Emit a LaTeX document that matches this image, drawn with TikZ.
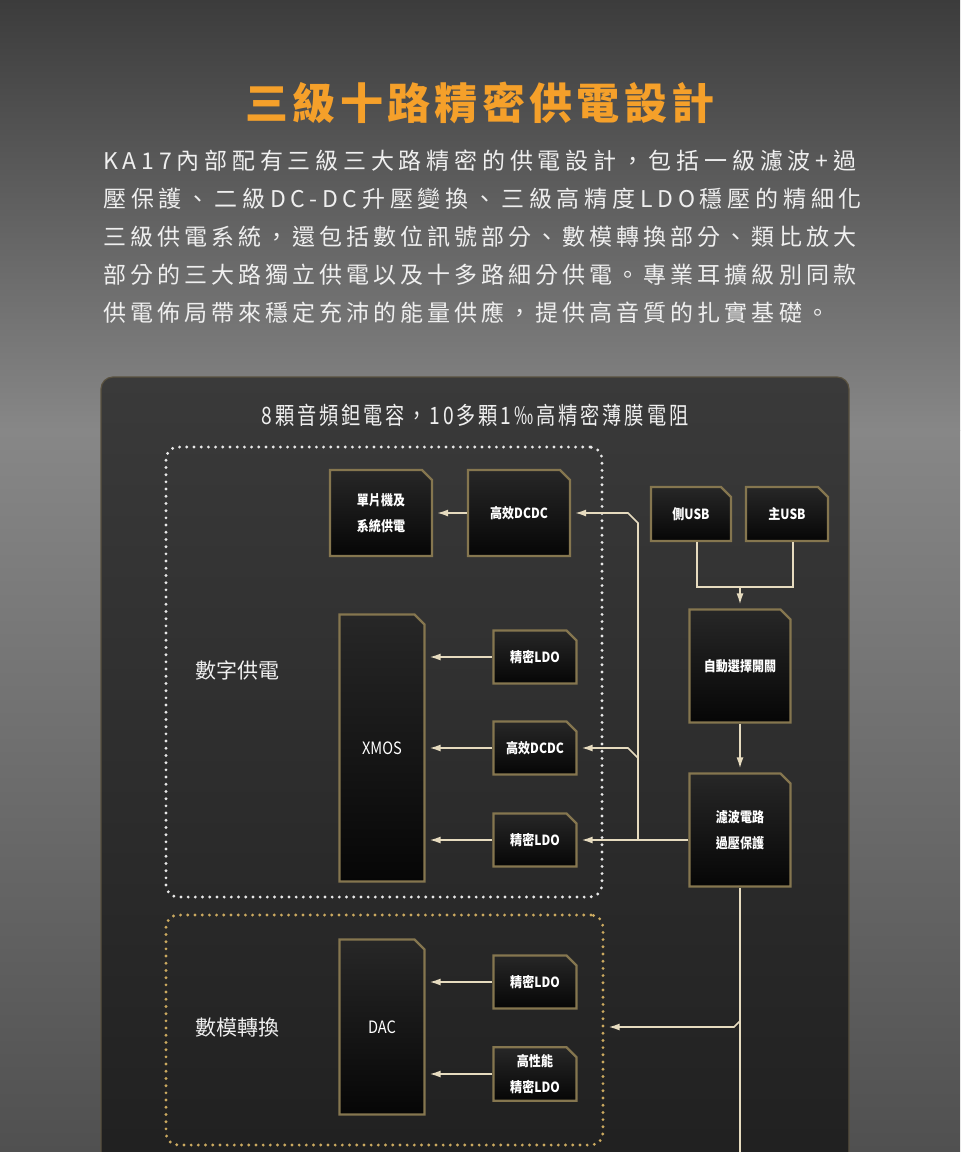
\documentclass[tikz,border=0pt]{standalone}
\usepackage{fontspec}
\usetikzlibrary{arrows.meta,shapes.misc,positioning}
\newfontfamily\cjk{Noto Sans CJK TC}
\newfontfamily\cjktitle{Noto Sans CJK TC}[LetterSpace=10]
\newfontfamily\cjkwide{Noto Sans CJK TC}[LetterSpace=17.5]
\newfontfamily\cjkwider{Noto Sans CJK TC}[LetterSpace=20.8]
\newfontfamily\cjknarrow{Noto Sans CJK TC}[FakeStretch=0.86]
\newfontfamily\cjkcaption{Noto Sans CJK TC}[FakeStretch=0.8,LetterSpace=12]
\definecolor{bgtop}{HTML}{3C3C3C}
\definecolor{bgmid}{HTML}{878787}
\definecolor{bglow}{HTML}{505050}
\definecolor{paneltop}{HTML}{3A3A3A}
\definecolor{panelbot}{HTML}{202020}
\definecolor{paneledge}{HTML}{5A5240}
\definecolor{chipedge}{HTML}{85764F}
\definecolor{chiptop}{HTML}{272727}
\definecolor{chipbot}{HTML}{060606}
\definecolor{wire}{HTML}{E6DBBF}
\definecolor{dotwhite}{HTML}{E8E8E8}
\definecolor{dotgold}{HTML}{CCAA60}
\definecolor{titleorange}{HTML}{F5A02A}
\definecolor{paper}{HTML}{EFEFEF}
\tikzset{
  chip/.style={chamfered rectangle, chamfered rectangle corners=north east,
    chamfered rectangle xsep=2.5pt, chamfered rectangle ysep=2.5pt,
    draw=chipedge, line width=1.1pt, top color=chiptop, bottom color=chipbot,
    text=white, font=\fontsize{7}{13}\selectfont\cjknarrow\bfseries, align=center, inner sep=1pt},
  smallchip/.style={chip, minimum width=41.5pt, minimum height=26.5pt},
  wirepath/.style={draw=wire, line width=0.8pt},
  feed/.style={wirepath, -{Latex[length=5.5pt,width=3.5pt]}, shorten >=2pt},
  dotbox/.style={rounded corners=6pt, line width=1.6pt, line cap=round,
    dash pattern=on 0pt off 3.6pt, inner sep=0pt},
  zone/.style={text=paper, font=\fontsize{10.5}{12}\selectfont\cjk},
}
\begin{document}
\begin{tikzpicture}[x=0.5pt,y=-0.5pt]
\useasboundingbox (0,0) rectangle (960,1152);
\shade[top color=bgtop, bottom color=bgmid] (0,0) rectangle (960,430);
\shade[top color=bgmid, bottom color=bglow] (0,430) rectangle (960,1152);
\shade[top color=paneltop, bottom color=panelbot, draw=paneledge, line width=0.6pt, rounded corners=6pt] (101,377) rectangle (849,1175);

\node[anchor=base, text=titleorange, font=\fontsize{21.5}{24}\selectfont\cjktitle\bfseries] (headline) at (480,119) {三級十路精密供電設計};
\node[anchor=north west, inner sep=0pt, align=left, text=paper, font=\fontsize{11.5}{19}\selectfont\cjkwide] (intro) at (103,150)
  {{\cjkwider KA17內部配有三級三大路精密的供電設計，包括一級濾波+過}\\
   {\cjkwider 壓保護、二級DC-DC升壓變換、三級高精度LDO穩壓的精細化}\\
   三級供電系統，還包括數位訊號部分、數模轉換部分、類比放大\\
   部分的三大路獨立供電以及十多路細分供電。專業耳擴級別同款\\
   供電佈局帶來穩定充沛的能量供應，提供高音質的扎實基礎。};
\node[anchor=base, text=paper, font=\fontsize{12}{14}\selectfont\cjkcaption] (parts) at (475,424) {8顆音頻鉭電容，10多顆1‰高精密薄膜電阻};

\node[dotbox, draw=dotwhite, minimum width=218pt, minimum height=225pt] (digital) at (384,672) {};
\node[dotbox, draw=dotgold, minimum width=218.5pt, minimum height=115pt] (analog) at (384.5,1030) {};
\node[zone] (digitaltag) at (237,670) {數字供電};
\node[zone] (analogtag) at (237,1028) {數模轉換};

\node[chip, minimum width=51pt, minimum height=43pt] (mcu) at (381,513) {單片機及\\系統供電};
\node[chip, minimum width=51pt, minimum height=43pt] (dcdcA) at (519,513) {高效DCDC};
\node[chip, minimum width=40pt, minimum height=27pt] (usbS) at (691,514) {側USB};
\node[chip, minimum width=41pt, minimum height=27pt] (usbM) at (787,514) {主USB};
\node[chip, minimum width=50.5pt, minimum height=56.5pt] (sel) at (740,666) {自動選擇開關};
\node[chip, minimum width=50.5pt, minimum height=56.5pt] (filt) at (740,830) {濾波電路\\過壓保護};
\node[chip, minimum width=42.5pt, minimum height=133.5pt, font=\fontsize{8.5}{10}\selectfont\cjknarrow] (xmos) at (382,748) {XMOS};
\node[smallchip] (ldoA) at (535,657) {精密LDO};
\node[smallchip] (dcdcB) at (535,748) {高效DCDC};
\node[smallchip] (ldoB) at (535,840) {精密LDO};
\node[chip, minimum width=42.5pt, minimum height=87.5pt, font=\fontsize{8.5}{10}\selectfont\cjknarrow] (dac) at (382,1027) {DAC};
\node[smallchip] (ldoC) at (535,982) {精密LDO};
\node[smallchip] (ldoD) at (535,1074) {高性能\\精密LDO};

\draw[feed] (dcdcA.west) -- (mcu.east);
\draw[feed] (ldoA.west) -- (xmos.east |- ldoA);
\draw[feed] (dcdcB.west) -- (xmos.east |- dcdcB);
\draw[feed] (ldoB.west) -- (xmos.east |- ldoB);
\draw[feed] (ldoC.west) -- (dac.east |- ldoC);
\draw[feed] (ldoD.west) -- (dac.east |- ldoD);

\coordinate (join) at (742,587);
\coordinate (bus) at (638,840);
\coordinate (floor) at (740,1152);
\draw[wirepath] ([xshift=3pt]usbS.south) |- ([xshift=3pt]usbM.south |- join) -- ([xshift=3pt]usbM.south);
\draw[feed] (sel.north |- join) -- (sel.north);
\draw[feed] (sel.south) -- (filt.north);
\draw[feed] (filt.west |- ldoB) -- (ldoB.east);
\draw[feed] (bus) -- ([yshift=-5pt]bus |- dcdcA) -- ([xshift=-5pt]bus |- dcdcA) -- (dcdcA.east);
\draw[feed] ([yshift=-5pt]bus |- dcdcB) -- ([xshift=-5pt]bus |- dcdcB) -- (dcdcB.east);
\draw[wirepath] (filt.south) -- (floor);
\draw[feed] ([yshift=3pt]filt.south |- dac) -- ([xshift=-3pt]filt.south |- dac) -- (analog.east |- dac);
\end{tikzpicture}
\end{document}
